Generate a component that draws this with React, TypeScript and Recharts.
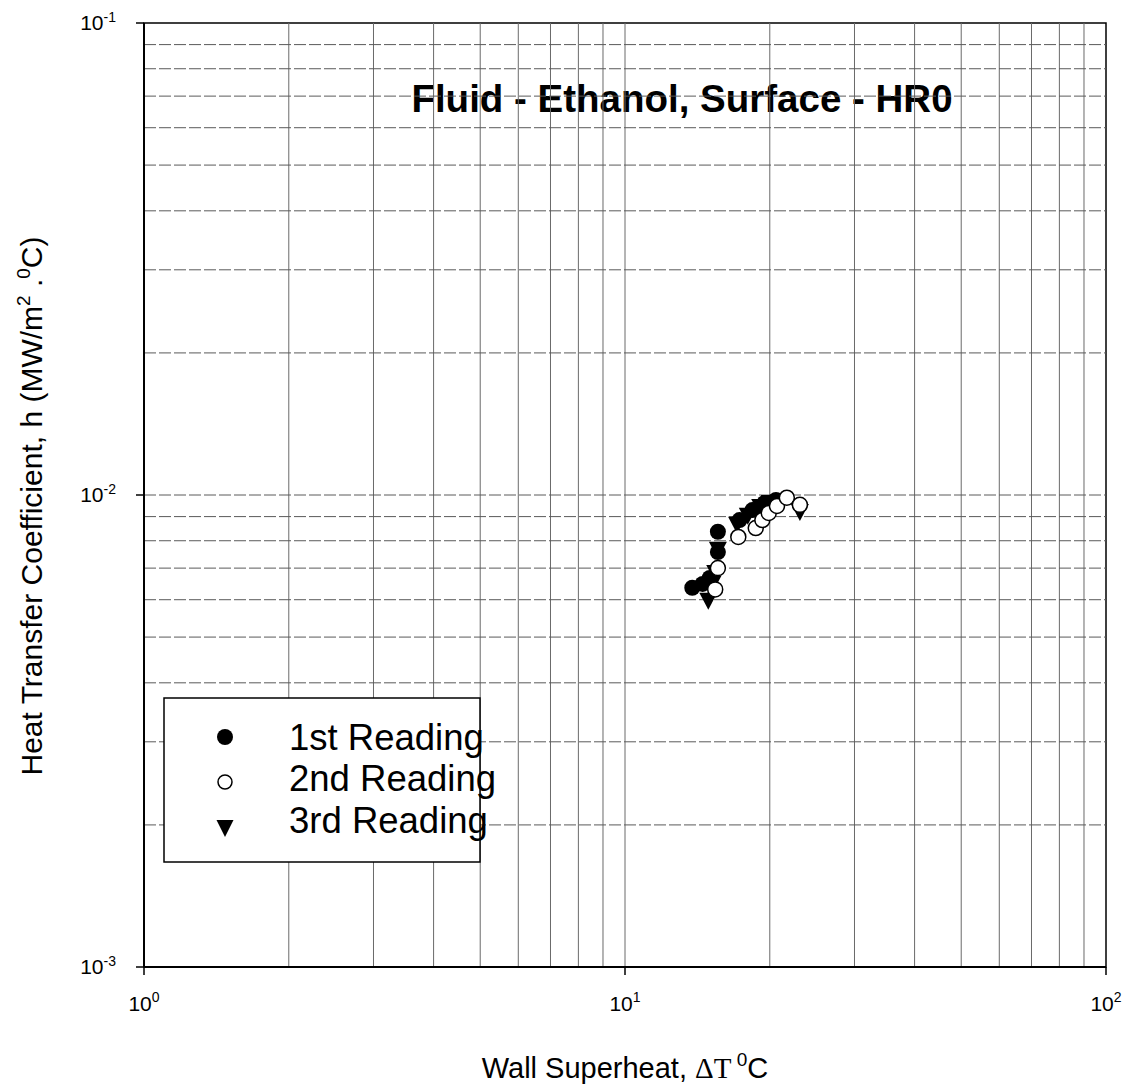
import React from 'react';
import {
  ScatterChart,
  Scatter,
  XAxis,
  YAxis,
  ReferenceLine,
  ReferenceArea,
  Legend,
  Customized,
  Label,
} from 'recharts';

// Wall superheat (°C) vs heat transfer coefficient (MW/m²·°C)
const firstReading = [
  { dt: 13.8, h: 0.00636 },
  { dt: 14.5, h: 0.00648 },
  { dt: 15.0, h: 0.00667 },
  { dt: 15.6, h: 0.00757 },
  { dt: 15.6, h: 0.00836 },
  { dt: 17.3, h: 0.00885 },
  { dt: 18.4, h: 0.00929 },
  { dt: 19.5, h: 0.00962 },
  { dt: 20.6, h: 0.00976 },
];

const secondReading = [
  { dt: 15.4, h: 0.00631 },
  { dt: 15.6, h: 0.007 },
  { dt: 17.2, h: 0.00815 },
  { dt: 18.7, h: 0.00851 },
  { dt: 19.3, h: 0.00885 },
  { dt: 19.9, h: 0.00916 },
  { dt: 20.7, h: 0.00948 },
  { dt: 21.7, h: 0.00987 },
  { dt: 23.1, h: 0.00953 },
];

const thirdReading = [
  { dt: 14.9, h: 0.006 },
  { dt: 15.2, h: 0.00652 },
  { dt: 15.4, h: 0.00687 },
  { dt: 15.6, h: 0.00769 },
  { dt: 17.1, h: 0.00869 },
  { dt: 18.0, h: 0.00908 },
  { dt: 19.1, h: 0.00948 },
  { dt: 20.0, h: 0.00967 },
  { dt: 23.1, h: 0.00925 },
];

const xTicks = [1, 10, 100];
const yTicks = [0.001, 0.01, 0.1];
const xGrid = [2, 3, 4, 5, 6, 7, 8, 9, 10, 20, 30, 40, 50, 60, 70, 80, 90];
const yGrid = [
  0.002, 0.003, 0.004, 0.005, 0.006, 0.007, 0.008, 0.009, 0.01,
  0.02, 0.03, 0.04, 0.05, 0.06, 0.07, 0.08, 0.09,
];

const seriesNames = ['1st Reading', '2nd Reading', '3rd Reading'];
const titleText = 'Fluid - Ethanol, Surface - HR0';

const FONT = '"Liberation Sans", Arial, Helvetica, sans-serif';
const SERIF = '"Liberation Serif", "Times New Roman", serif';

const FilledDot = (p: any) => <circle cx={p.cx} cy={p.cy} r={8} fill="#000" />;
const OpenDot = (p: any) => (
  <circle cx={p.cx} cy={p.cy} r={7.5} fill="#fff" stroke="#000" strokeWidth={1.5} />
);
const DownTri = (p: any) => (
  <path
    d={`M${p.cx - 9},${p.cy - 7} L${p.cx + 9},${p.cy - 7} L${p.cx},${p.cy + 10} Z`}
    fill="#000"
  />
);

const exponentOf = (v: number) => Math.round(Math.log10(v));

const XTick = (props: any) => {
  const { x, y, payload } = props;
  return (
    <text x={x} y={y + 36} textAnchor="middle" fontFamily={FONT} fontSize={21} fill="#000">
      10
      <tspan dy={-9} fontSize={14}>
        {exponentOf(payload.value)}
      </tspan>
    </text>
  );
};

const YTick = (props: any) => {
  const { x, y, payload } = props;
  return (
    <text x={x - 20} y={y + 7} textAnchor="end" fontFamily={FONT} fontSize={21} fill="#000">
      10
      <tspan dy={-8} fontSize={14}>
        {exponentOf(payload.value)}
      </tspan>
    </text>
  );
};

const YTitle = (props: any) => {
  const vb = props.viewBox;
  const cx = vb.x - 22;
  const cy = vb.y + vb.height / 2 + 11;
  return (
    <text
      x={cx}
      y={cy}
      transform={`rotate(-90, ${cx}, ${cy})`}
      textAnchor="middle"
      fontFamily={FONT}
      fontSize={30}
      fill="#000"
    >
      Heat Transfer Coefficient, h (MW/m
      <tspan dy={-12} fontSize={19}>2</tspan>
      <tspan dy={12}> .</tspan>
      <tspan dy={-12} fontSize={19}>0</tspan>
      <tspan dy={12}>C)</tspan>
    </text>
  );
};

const XTitle = (props: any) => {
  const vb = props.viewBox;
  return (
    <text
      x={vb.x + vb.width / 2}
      y={vb.y + 111}
      textAnchor="middle"
      fontFamily={FONT}
      fontSize={29}
      fill="#000"
    >
      Wall Superheat,{' '}
      <tspan fontFamily={SERIF}>ΔT</tspan>
      <tspan dy={-12} fontSize={19}> 0</tspan>
      <tspan dy={12}>C</tspan>
    </text>
  );
};

const ChartTitle = () => (
  <text
    x={674}
    y={104}
    textAnchor="middle"
    fontFamily={FONT}
    fontWeight="bold"
    fontSize={38.5}
    fill="#000"
  >
    {titleText}
  </text>
);

const LegendBox = () => {
  const rows = [0, 1, 2];
  const symbolY = [40, 85, 130];
  const textY = [53, 94, 136];
  return (
    <svg width={345} height={166} style={{ display: 'block', overflow: 'visible' }}>
      <rect x={1} y={1} width={316} height={164} fill="#fff" stroke="#000" strokeWidth={1.5} />
      {rows.map((i) => {
        const cy = symbolY[i];
        const cx = 62;
        return (
          <g key={i}>
            {i === 0 && <circle cx={cx} cy={cy} r={8} fill="#000" />}
            {i === 1 && <circle cx={cx} cy={cy} r={7} fill="#fff" stroke="#000" strokeWidth={1.5} />}
            {i === 2 && (
              <path d={`M${cx - 8.5},${cy - 7} L${cx + 8.5},${cy - 7} L${cx},${cy + 10} Z`} fill="#000" />
            )}
            <text x={126} y={textY[i]} fontFamily={FONT} fontSize={36.5} fill="#000">
              {seriesNames[i]}
            </text>
          </g>
        );
      })}
    </svg>
  );
};

export default function App() {
  return (
    <div style={{ width: 1133, height: 1082, position: 'relative', background: '#fff' }}>
      <ScatterChart
        width={1133}
        height={1082}
        margin={{ top: 15, right: 35, bottom: 63, left: 56 }}
      >
        {xGrid.map((v) => (
          <ReferenceLine key={`vx${v}`} x={v} stroke="#6a6a6a" strokeWidth={1} />
        ))}
        {yGrid.map((v) => (
          <ReferenceLine
            key={`hy${v}`}
            y={v}
            stroke="#5a5a5a"
            strokeWidth={1}
            strokeDasharray="12 3"
          />
        ))}
        <ReferenceArea
          x1={1}
          x2={100}
          y1={0.001}
          y2={0.1}
          fill="none"
          stroke="#000"
          strokeWidth={1.5}
        />
        <XAxis
          type="number"
          dataKey="dt"
          scale="log"
          domain={[1, 100]}
          ticks={xTicks}
          allowDataOverflow
          height={60}
          tickSize={8}
          tickMargin={0}
          tick={<XTick />}
          axisLine={{ stroke: '#000', strokeWidth: 2 }}
          tickLine={{ stroke: '#000', strokeWidth: 1.5 }}
        >
          <Label content={<XTitle />} />
        </XAxis>
        <YAxis
          type="number"
          dataKey="h"
          scale="log"
          domain={[0.001, 0.1]}
          ticks={yTicks}
          allowDataOverflow
          width={80}
          tickSize={8}
          tickMargin={0}
          tick={<YTick />}
          axisLine={{ stroke: '#000', strokeWidth: 2 }}
          tickLine={{ stroke: '#000', strokeWidth: 1.5 }}
        >
          <Label content={<YTitle />} />
        </YAxis>
        <Scatter
          name={seriesNames[0]}
          data={firstReading}
          shape={<FilledDot />}
          isAnimationActive={false}
        />
        <Scatter
          name={seriesNames[2]}
          data={thirdReading}
          shape={<DownTri />}
          isAnimationActive={false}
        />
        <Scatter
          name={seriesNames[1]}
          data={secondReading}
          shape={<OpenDot />}
          isAnimationActive={false}
        />
        <Customized component={ChartTitle} />
        <Legend
          layout="vertical"
          align="center"
          verticalAlign="middle"
          content={<LegendBox />}
          wrapperStyle={{ position: 'absolute', left: 155, top: 689, width: 345, height: 166 }}
        />
      </ScatterChart>
    </div>
  );
}
